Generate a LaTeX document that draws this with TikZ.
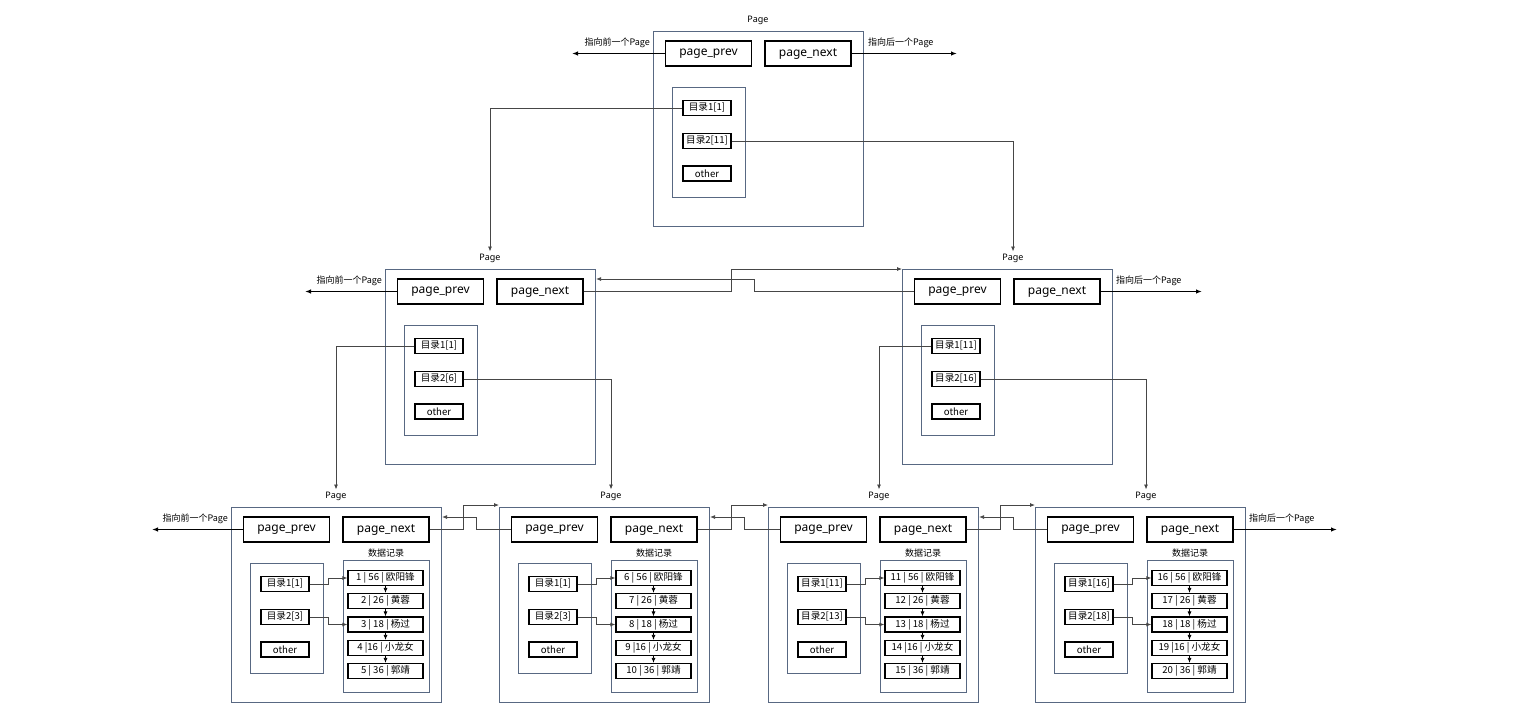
\documentclass[tikz,border=0pt]{standalone}
\usepackage{fontspec}
\setmainfont{Noto Sans}
\newfontfamily\cjk{Noto Sans CJK SC}
\usetikzlibrary{arrows.meta,calc}
\definecolor{frame}{RGB}{88,104,130}
\definecolor{linkc}{RGB}{70,70,70}
\tikzset{
  pagebox/.style={draw=frame, line width=1.1pt, minimum width=210pt, minimum height=195pt, anchor=north west, inner sep=0pt},
  ptrbox/.style={draw=black, line width=1.4pt, minimum width=86pt, minimum height=25pt, inner sep=0pt, font=\fontsize{12}{14}\selectfont},
  cont/.style={draw=frame, line width=1.1pt, anchor=north west, inner sep=0pt},
  dirbox/.style={draw=black, line width=1.2pt, minimum width=48pt, minimum height=15pt, inner sep=1pt, font=\cjk\fontsize{9.6}{10}\selectfont},
  recbox/.style={draw=black, line width=1.2pt, minimum width=75pt, minimum height=15pt, inner sep=0pt, font=\cjk\fontsize{9.6}{10}\selectfont},
  lbl/.style={font=\fontsize{9}{10}\selectfont, inner sep=2pt},
  extlbl/.style={font=\cjk\fontsize{9}{10}\selectfont, inner sep=0pt},
  link/.style={draw=linkc, line width=0.8pt},
  tip/.style={-{Latex[length=5pt,width=4pt]}},
  ext/.style={draw=black, line width=1.4pt, -{Latex[length=6pt,width=4.5pt]}},
}
\newcommand\mkpage[4]{%
  \node[pagebox] (#1) at (#2,#3) {};
  \node[lbl] (#1-lbl) at (#2+#4,#3-11) {Page};
  \node[ptrbox] (#1-prev) at (#2+55.5,#3+22.5) {page\_prev};
  \node[ptrbox] (#1-next) at (#2+155,#3+22.5) {page\_next};
}
\newcommand\mkdir[5]{%
  \node[cont, minimum width=73pt, minimum height=110pt] (#1-dir) at (#2+19,#3+56) {};
  \node[dirbox] (#1-d1) at (#2+54,#3+77) {#4};
  \node[dirbox] (#1-d2) at (#2+54,#3+110) {#5};
  \node[dirbox] (#1-d3) at (#2+54,#3+142.5) {other};
}
\newcommand\mkdata[4]{%
  \node[lbl, font=\cjk\fontsize{9}{10}\selectfont] (#1-dlbl) at (#2+155,#3+46) {数据记录};
  \node[cont, minimum width=86pt, minimum height=132pt] (#1-data) at (#2+112,#3+53) {};
  \node[recbox] (#1-r1) at (#2+154.5,#3+71) {#4 | 56 | 欧阳锋};
  \node[recbox] (#1-r2) at (#2+154.5,#3+94) {\the\numexpr#4+1\relax{} | 26 | 黄蓉};
  \node[recbox] (#1-r3) at (#2+154.5,#3+117.5) {\the\numexpr#4+2\relax{} | 18 | 杨过};
  \node[recbox] (#1-r4) at (#2+154.5,#3+141) {\the\numexpr#4+3\relax{} |16 | 小龙女};
  \node[recbox] (#1-r5) at (#2+154.5,#3+164) {\the\numexpr#4+4\relax{} | 36 | 郭靖};
  \foreach \i/\j in {r1/r2,r2/r3,r3/r4,r4/r5}{
    \draw[black, line width=0.8pt, tip] (#1-\i.south) -- (#1-\j.north);
  }
  \draw[link,tip] (#1-d1.east) -- ++(19,0) |- (#1-r1.west);
  \draw[link,tip] (#1-d2.east) -- ++(19,0) |- (#1-r3.west);
}
\begin{document}
\begin{tikzpicture}[x=1pt,y=-1pt]
\useasboundingbox[fill=white] (0,0) rectangle (1528,724);
% top
\mkpage{t}{653}{31}{105}
\mkdir{t}{653}{31}{目录1[1]}{目录2[11]}
% middle
\mkpage{ml}{385}{269}{105}
\mkdir{ml}{385}{269}{目录1[1]}{目录2[6]}
\mkpage{mr}{902}{269}{111}
\mkdir{mr}{902}{269}{目录1[11]}{目录2[16]}
% bottom
\mkpage{ba}{231}{507}{105}
\mkdir{ba}{231}{507}{目录1[1]}{目录2[3]}
\mkdata{ba}{231}{507}{1}
\mkpage{bb}{499}{507}{112}
\mkdir{bb}{499}{507}{目录1[1]}{目录2[3]}
\mkdata{bb}{499}{507}{6}
\mkpage{bc}{768}{507}{111}
\mkdir{bc}{768}{507}{目录1[11]}{目录2[13]}
\mkdata{bc}{768}{507}{11}
\mkpage{bd}{1035}{507}{111}
\mkdir{bd}{1035}{507}{目录1[16]}{目录2[18]}
\mkdata{bd}{1035}{507}{16}
% tree connectors
\draw[link,tip] (t-d1.west) -| (ml-lbl.north);
\draw[link,tip] (t-d2.east) -| (mr-lbl.north);
\draw[link,tip] (ml-d1.west) -| (ba-lbl.north);
\draw[link,tip] (ml-d2.east) -| (bb-lbl.north);
\draw[link,tip] (mr-d1.west) -| (bc-lbl.north);
\draw[link,tip] (mr-d2.east) -| (bd-lbl.north);
% sibling links (middle)
\draw[link,tip] (ml-next.east) -| (731,269) -- (mr.north west);
\draw[link,tip] (mr-prev.west) -| (754,279) -- (ml.north east |- 754,279);
% sibling links (bottom)
\foreach \a/\b/\g in {ba/bb/441,bb/bc/709,bc/bd/978}{
  \draw[link,tip] (\a-next.east) -| (\g+22,505) -- (\b.north west |- 0,505);
  \draw[link,tip] (\b-prev.west) -| (\g+35,517) -- (\a.north east |- 0,517);
}
% external pointers
\coordinate (t-lend) at (572,53.5);
\coordinate (t-rend) at (957,53.5);
\draw[ext] (t-prev.west) -- (t-lend);
\draw[ext] (t-next.east) -- (t-rend);
\node[extlbl, anchor=east] (t-ltxt) at (650,43) {指向前一个Page};
\node[extlbl, anchor=west] (t-rtxt) at (868,43) {指向后一个Page};
\coordinate (ml-lend) at (305,291.5);
\draw[ext] (ml-prev.west) -- (ml-lend);
\node[extlbl, anchor=east] (ml-ltxt) at (382,281) {指向前一个Page};
\coordinate (mr-rend) at (1202,291.5);
\draw[ext] (mr-next.east) -- (mr-rend);
\node[extlbl, anchor=west] (mr-rtxt) at (1116,281) {指向后一个Page};
\coordinate (ba-lend) at (152,529.5);
\draw[ext] (ba-prev.west) -- (ba-lend);
\node[extlbl, anchor=east] (ba-ltxt) at (228,519) {指向前一个Page};
\coordinate (bd-rend) at (1337,529.5);
\draw[ext] (bd-next.east) -- (bd-rend);
\node[extlbl, anchor=west] (bd-rtxt) at (1249,519) {指向后一个Page};
\end{tikzpicture}
\end{document}
